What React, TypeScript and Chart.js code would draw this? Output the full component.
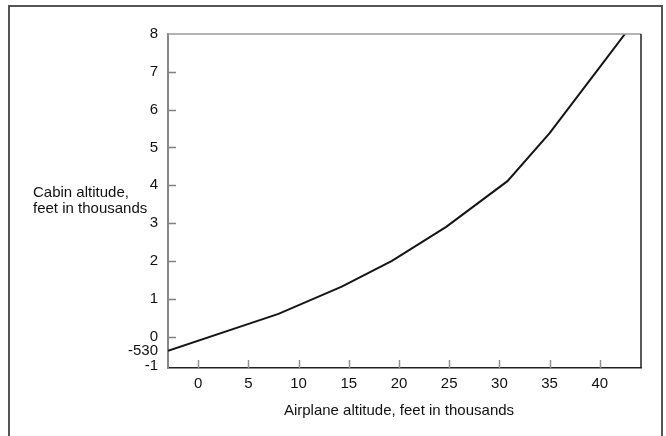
import React, { useEffect, useRef } from "react";
import { Chart, registerables } from "chart.js";

Chart.register(...registerables);

// Data (airplane altitude vs cabin altitude, thousands of feet)
const airplaneAltitude = [-3.0, 8.0, 14.3, 19.3, 24.7, 30.8, 35.0, 40.3, 42.5];
const cabinAltitude = [-0.376, 0.6, 1.32, 2.0, 2.9, 4.11, 5.38, 7.23, 8.0];

const xTickValues = [0, 5, 10, 15, 20, 25, 30, 35, 40];
const xTickLabels = ["0", "5", "10", "15", "20", "25", "30", "35", "40"];
const yTickValues = [8, 7, 6, 5, 4, 3, 2, 1, 0, -0.376, -0.78];
const yTickLabels = ["8", "7", "6", "5", "4", "3", "2", "1", "0", "-530", "-1"];
const yMarkedTicks = [7, 6, 5, 4, 3, 2, 1, 0];

const xTitle = "Airplane altitude, feet in thousands";
const yTitleLines = ["Cabin altitude,", "feet in thousands"];

const FONT = '"Liberation Sans", Arial, Helvetica, sans-serif';

const framePlugin = {
  id: "frame",
  afterDraw(chart: any) {
    const { ctx, chartArea, scales } = chart;
    const { left, right, top, bottom } = chartArea;
    const x = scales.x;
    const y = scales.y;
    ctx.save();
    // top border
    ctx.strokeStyle = "#9a9a9a";
    ctx.lineWidth = 1.5;
    ctx.beginPath();
    ctx.moveTo(left, top);
    ctx.lineTo(right, top);
    ctx.stroke();
    // right border
    ctx.strokeStyle = "#222";
    ctx.lineWidth = 1.5;
    ctx.beginPath();
    ctx.moveTo(right, top);
    ctx.lineTo(right, bottom);
    ctx.stroke();
    // inward y ticks
    ctx.strokeStyle = "#808080";
    ctx.lineWidth = 1.5;
    yMarkedTicks.forEach((v) => {
      const py = Math.round(y.getPixelForValue(v)) + 0.5;
      ctx.beginPath();
      ctx.moveTo(left, py);
      ctx.lineTo(left + 8, py);
      ctx.stroke();
    });
    // inward x ticks
    ctx.strokeStyle = "#909090";
    xTickValues.forEach((v) => {
      const px = Math.round(x.getPixelForValue(v)) + 0.5;
      ctx.beginPath();
      ctx.moveTo(px, bottom);
      ctx.lineTo(px, bottom - 8);
      ctx.stroke();
    });
    // titles
    ctx.fillStyle = "#111";
    ctx.font = "15px " + FONT;
    ctx.textBaseline = "middle";
    ctx.textAlign = "left";
    ctx.fillText(yTitleLines[0], 33, 193);
    ctx.fillText(yTitleLines[1], 33, 209);
    ctx.textAlign = "center";
    ctx.fillText(xTitle, 399, 411);
    ctx.restore();
  },
};

export default function App() {
  const canvasRef = useRef<HTMLCanvasElement | null>(null);

  useEffect(() => {
    if (!canvasRef.current) return;
    Chart.defaults.font.family = FONT;
    Chart.defaults.font.size = 15;
    Chart.defaults.color = "#111";
    const chart = new Chart(canvasRef.current, {
      type: "line",
      data: {
        datasets: [
          {
            data: airplaneAltitude.map((v, i) => ({ x: v, y: cabinAltitude[i] })),
            borderColor: "#151515",
            borderWidth: 2,
            pointRadius: 0,
            tension: 0,
            fill: false,
          },
        ],
      },
      options: {
        animation: false,
        responsive: false,
        devicePixelRatio: 1,
        layout: { padding: { left: 0, right: 25, top: 34, bottom: 0 } },
        plugins: { legend: { display: false }, tooltip: { enabled: false } },
        scales: {
          x: {
            type: "linear",
            min: -3,
            max: 44.1,
            grid: { display: false, drawTicks: false },
            border: { display: true, color: "#222", width: 1.5 },
            afterBuildTicks: (s: any) => {
              s.ticks = xTickValues.map((v) => ({ value: v }));
            },
            afterFit: (s: any) => {
              s.height = 68;
            },
            ticks: {
              autoSkip: false,
              maxRotation: 0,
              padding: 7,
              font: { size: 15 },
              callback: (v: any) => {
                const i = xTickValues.indexOf(Number(v));
                return i >= 0 ? xTickLabels[i] : "";
              },
            },
          },
          y: {
            type: "linear",
            min: -0.83,
            max: 8,
            grid: { display: false, drawTicks: false },
            border: { display: true, color: "#888", width: 2 },
            afterBuildTicks: (s: any) => {
              s.ticks = yTickValues.map((v) => ({ value: v }));
            },
            afterFit: (s: any) => {
              s.width = 168;
            },
            ticks: {
              autoSkip: false,
              padding: 10,
              font: { size: 15 },
              callback: (v: any) => {
                const i = yTickValues.indexOf(Number(v));
                return i >= 0 ? yTickLabels[i] : "";
              },
            },
          },
        },
      },
      plugins: [framePlugin],
    });
    return () => chart.destroy();
  }, []);

  return (
    <div>
      <div
        style={{
          position: "fixed",
          left: 8,
          top: 5,
          width: 655,
          height: 440,
          border: "2px solid #555",
          boxSizing: "border-box",
        }}
      />
      <canvas
        ref={canvasRef}
        width={666}
        height={436}
        style={{ position: "fixed", left: 0, top: 0, width: 666, height: 436 }}
      />
    </div>
  );
}
